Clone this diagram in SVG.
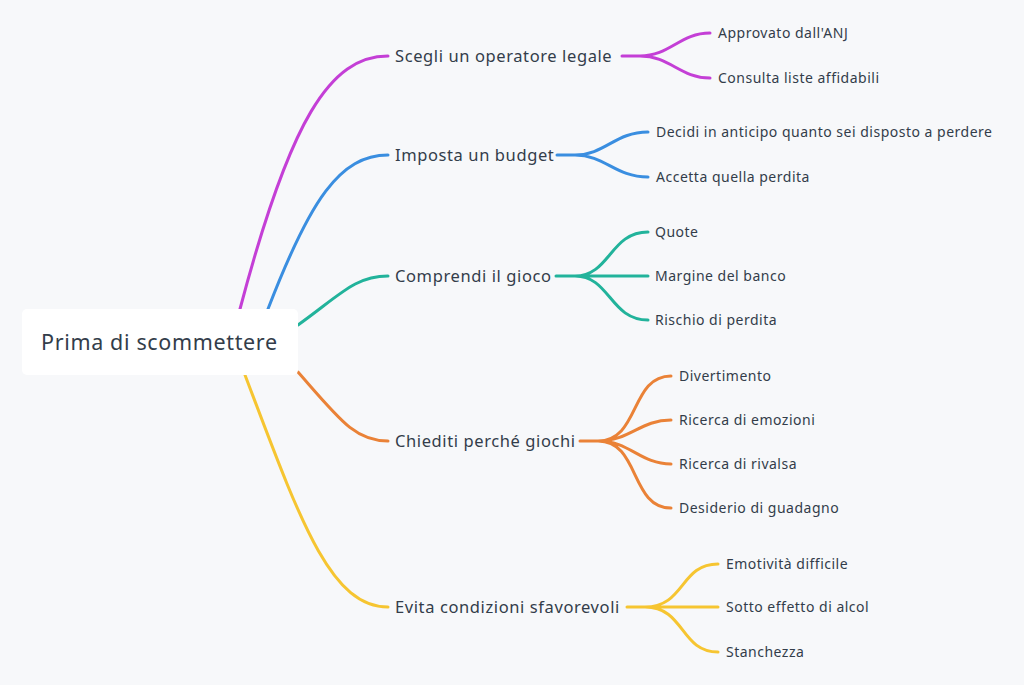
<svg xmlns="http://www.w3.org/2000/svg" width="1024" height="685" viewBox="0 0 1024 685">
<style>
.e{fill:none;stroke-width:3;stroke-linecap:round}
.m{font-family:"Noto Sans","Liberation Sans",sans-serif;font-size:16.5px;fill:#333d4a;letter-spacing:0.6px}
.c{font-family:"Noto Sans","Liberation Sans",sans-serif;font-size:14px;fill:#333d4a;letter-spacing:0.5px}
.p{stroke:#c43fd6}.b{stroke:#3a8ee0}.t{stroke:#22b39b}.o{stroke:#ea8237}.y{stroke:#f6c531}
</style>
<rect width="1024" height="685" fill="#f7f8fa"/>
<g id="connectors">
<path class="e p" d="M240,309 C290,120 330,56 388,56"/>
<path class="e b" d="M268,309 C310,200 340,155 388,155"/>
<path class="e t" d="M298,325 C340,295 355,276 388,276"/>
<path class="e o" d="M298,372 C340,420 355,441 388,441"/>
<path class="e y" d="M245,375 C300,520 330,607 388,607"/>
<path class="e p" d="M622,56 H640 C670,56 680,33 710,33 M640,56 C670,56 680,78 710,78"/>
<path class="e b" d="M557,155 H575 C605,155 615,132 648,132 M575,155 C605,155 615,177 648,177"/>
<path class="e t" d="M556,276 H575 C610,276 610,232 648,232 M575,276 H648 M575,276 C610,276 610,320 648,320"/>
<path class="e o" d="M580,441 H598 C640,441 630,376 671,376 M598,441 C630,441 640,420 671,420 M598,441 C630,441 640,464 671,464 M598,441 C640,441 630,508 671,508"/>
<path class="e y" d="M627,607 H645 C685,607 680,564 718,564 M645,607 H718 M645,607 C685,607 680,652 718,652"/>
</g>
<g id="root"><rect x="22" y="309" width="276" height="66" rx="5" fill="#fff"/><text x="41" y="350" font-family="'Noto Sans','Liberation Sans',sans-serif" font-size="21.5" letter-spacing="0.65" fill="#333d4a">Prima di scommettere</text></g>
<g id="n1"><text class="m" x="395" y="62">Scegli un operatore legale</text></g>
<g id="n1a"><text class="c" x="718" y="38">Approvato dall'ANJ</text></g>
<g id="n1b"><text class="c" x="718" y="83">Consulta liste affidabili</text></g>
<g id="n2"><text class="m" x="395" y="161">Imposta un budget</text></g>
<g id="n2a"><text class="c" x="656" y="137">Decidi in anticipo quanto sei disposto a perdere</text></g>
<g id="n2b"><text class="c" x="656" y="182">Accetta quella perdita</text></g>
<g id="n3"><text class="m" x="395" y="282">Comprendi il gioco</text></g>
<g id="n3a"><text class="c" x="655" y="237">Quote</text></g>
<g id="n3b"><text class="c" x="655" y="281">Margine del banco</text></g>
<g id="n3c"><text class="c" x="655" y="325">Rischio di perdita</text></g>
<g id="n4"><text class="m" x="395" y="447">Chiediti perché giochi</text></g>
<g id="n4a"><text class="c" x="679" y="381">Divertimento</text></g>
<g id="n4b"><text class="c" x="679" y="425">Ricerca di emozioni</text></g>
<g id="n4c"><text class="c" x="679" y="469">Ricerca di rivalsa</text></g>
<g id="n4d"><text class="c" x="679" y="513">Desiderio di guadagno</text></g>
<g id="n5"><text class="m" x="395" y="613">Evita condizioni sfavorevoli</text></g>
<g id="n5a"><text class="c" x="726" y="569">Emotività difficile</text></g>
<g id="n5b"><text class="c" x="726" y="612">Sotto effetto di alcol</text></g>
<g id="n5c"><text class="c" x="726" y="657">Stanchezza</text></g>
</svg>
